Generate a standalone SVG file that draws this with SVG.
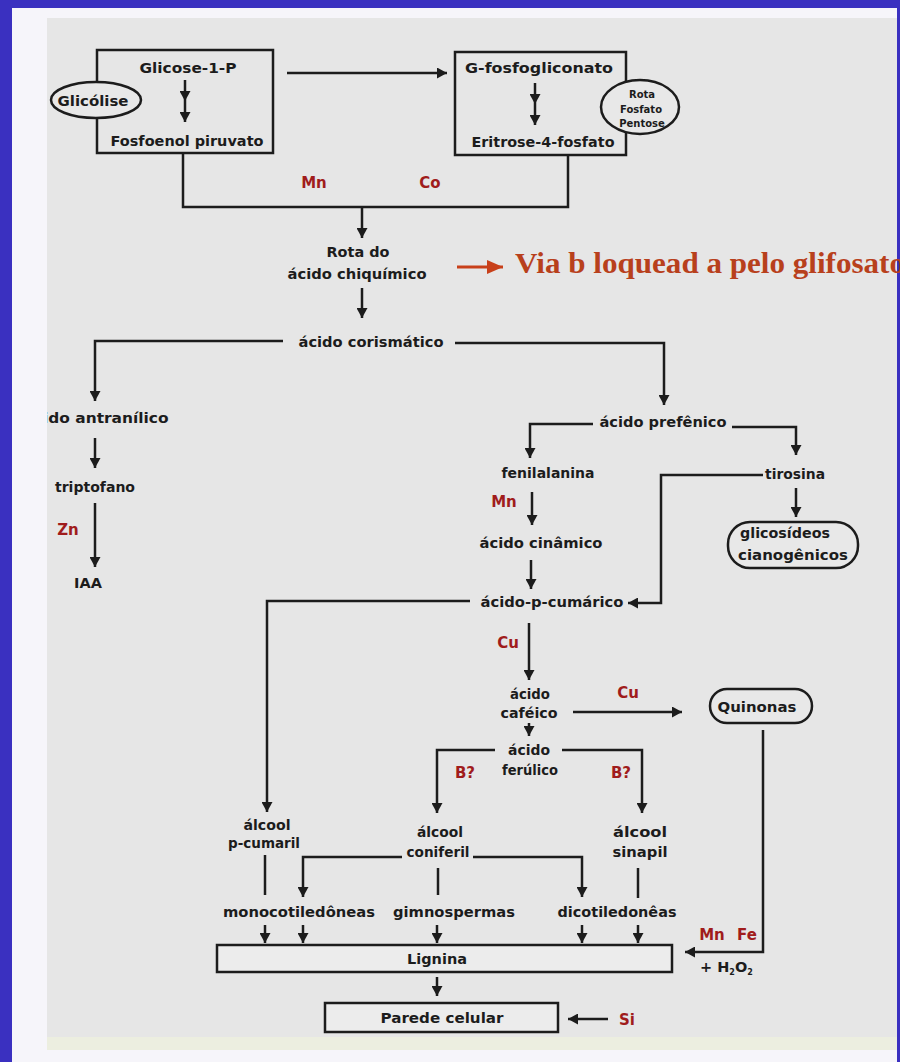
<svg xmlns="http://www.w3.org/2000/svg" width="900" height="1062" viewBox="0 0 900 1062">
<defs>
<style>
.t{font-family:"DejaVu Sans","Liberation Sans",sans-serif;font-weight:bold;font-size:14.5px;fill:#1c1c1c;text-anchor:middle}
.s{font-size:10px}
.r{font-family:"DejaVu Sans","Liberation Sans",sans-serif;font-weight:bold;font-size:15px;fill:#a01c1c;text-anchor:middle}
.c{fill:none;stroke:#1c1c1c;stroke-width:2.5}
.box{fill:#e8e8e8;stroke:#1c1c1c;stroke-width:2.5}
.frame{fill:none;stroke:#1c1c1c;stroke-width:2.5}
</style>
<marker id="ah" markerUnits="userSpaceOnUse" markerWidth="10" markerHeight="11" refX="10" refY="5.5" orient="auto"><path d="M0,0 L10,5.5 L0,11 z" fill="#1c1c1c"/></marker>
<marker id="ahr" markerUnits="userSpaceOnUse" markerWidth="16" markerHeight="14" refX="16" refY="7" orient="auto"><path d="M0,0 L16,7 L0,14 z" fill="#c8401a"/></marker>
<clipPath id="panel"><rect x="47" y="18" width="850" height="1020"/></clipPath>
</defs>

<g id="background">
<rect x="0" y="0" width="900" height="1062" fill="#3a30c0"/>
<rect x="12" y="8" width="885" height="1054" fill="#f6f5fa"/>
<rect x="47" y="18" width="850" height="1020" fill="#e6e6e6"/>
<rect x="47" y="1037" width="850" height="13" fill="#eceee0"/>
</g>

<g id="connectors">
<path class="c" d="M287,73 H447" marker-end="url(#ah)"/>
<path class="c" d="M185,80 V101 V122" marker-mid="url(#ah)" marker-end="url(#ah)"/>
<path class="c" d="M535,83 V104 V125" marker-mid="url(#ah)" marker-end="url(#ah)"/>
<path class="c" d="M183,153 V207 H568 V155"/>
<path class="c" d="M362,207 V238" marker-end="url(#ah)"/>
<path class="c" d="M362,288 V318" marker-end="url(#ah)"/>
<path d="M457,267 H503" fill="none" stroke="#c8401a" stroke-width="3" marker-end="url(#ahr)"/>
<path class="c" d="M283,341 H95 V401" marker-end="url(#ah)"/>
<path class="c" d="M455,343 H664 V405" marker-end="url(#ah)"/>
<path class="c" d="M95,438 V468" marker-end="url(#ah)"/>
<path class="c" d="M95,503 V567" marker-end="url(#ah)"/>
<path class="c" d="M593,424 H530 V458" marker-end="url(#ah)"/>
<path class="c" d="M732,427 H796 V455" marker-end="url(#ah)"/>
<path class="c" d="M532,492 V525" marker-end="url(#ah)"/>
<path class="c" d="M531,560 V589" marker-end="url(#ah)"/>
<path class="c" d="M796,488 V517" marker-end="url(#ah)"/>
<path class="c" d="M763,475 H661 V603 H628" marker-end="url(#ah)"/>
<path class="c" d="M470,601 H267 V812" marker-end="url(#ah)"/>
<path class="c" d="M529,623 V680" marker-end="url(#ah)"/>
<path class="c" d="M573,712 H682" marker-end="url(#ah)"/>
<path class="c" d="M529,723 V736" marker-end="url(#ah)"/>
<path class="c" d="M495,750 H437 V813" marker-end="url(#ah)"/>
<path class="c" d="M562,750 H642 V813" marker-end="url(#ah)"/>
<path class="c" d="M265,855 V895"/>
<path class="c" d="M402,857 H303 V897" marker-end="url(#ah)"/>
<path class="c" d="M473,857 H582 V897" marker-end="url(#ah)"/>
<path class="c" d="M438,868 V895"/>
<path class="c" d="M638,868 V898"/>
<path class="c" d="M265,925 V943" marker-end="url(#ah)"/>
<path class="c" d="M303,925 V943" marker-end="url(#ah)"/>
<path class="c" d="M437,925 V943" marker-end="url(#ah)"/>
<path class="c" d="M582,925 V943" marker-end="url(#ah)"/>
<path class="c" d="M638,925 V943" marker-end="url(#ah)"/>
<path class="c" d="M763,730 V952 H685" marker-end="url(#ah)"/>
<path class="c" d="M437,977 V996" marker-end="url(#ah)"/>
<path class="c" d="M608,1019 H568" marker-end="url(#ah)"/>
</g>

<g id="glicose-box">
<rect class="frame" x="97" y="50" width="176" height="103"/>
<text class="t" x="188" y="73" textLength="97" lengthAdjust="spacingAndGlyphs">Glicose-1-P</text>
<text class="t" x="187" y="146" textLength="153" lengthAdjust="spacingAndGlyphs">Fosfoenol piruvato</text>
</g>
<g id="glicolise">
<ellipse class="box" cx="96" cy="100" rx="45" ry="18"/>
<text class="t" x="93" y="106" font-size="13" textLength="71" lengthAdjust="spacingAndGlyphs">Glicólise</text>
</g>
<g id="gfosfo-box">
<rect class="frame" x="455" y="52" width="171" height="103"/>
<text class="t" x="539" y="73" textLength="148" lengthAdjust="spacingAndGlyphs">G-fosfogliconato</text>
<text class="t" x="543" y="147" textLength="143" lengthAdjust="spacingAndGlyphs">Eritrose-4-fosfato</text>
</g>
<g id="rota-fosfato">
<ellipse class="box" cx="640" cy="107" rx="39" ry="27"/>
<text class="t s" x="642" y="98">Rota</text>
<text class="t s" x="641" y="113">Fosfato</text>
<text class="t s" x="642" y="127">Pentose</text>
</g>
<g id="labels-top">
<text class="r" x="314" y="188">Mn</text>
<text class="r" x="430" y="188">Co</text>
</g>
<g id="rota-chiquimico">
<text class="t" x="358" y="257" textLength="63" lengthAdjust="spacingAndGlyphs">Rota do</text>
<text class="t" x="357" y="279" textLength="139" lengthAdjust="spacingAndGlyphs">ácido chiquímico</text>
</g>
<g id="glifosato">
<text x="515" y="273" font-family="'Liberation Serif','Times New Roman',serif" font-weight="bold" font-size="30" fill="#b8401c" textLength="390" lengthAdjust="spacingAndGlyphs">Via b loquead a pelo glifosato</text>
</g>
<g id="corismatico">
<text class="t" x="371" y="347" textLength="145" lengthAdjust="spacingAndGlyphs">ácido corismático</text>
</g>
<g id="antranilico">
<text class="t" x="96" y="423" textLength="145" lengthAdjust="spacingAndGlyphs" clip-path="url(#panel)">ácido antranílico</text>
</g>
<g id="triptofano">
<text class="t" x="95" y="492" textLength="80" lengthAdjust="spacingAndGlyphs">triptofano</text>
<text class="r" x="68" y="535">Zn</text>
</g>
<g id="iaa">
<text class="t" x="88" y="588">IAA</text>
</g>
<g id="prefenico">
<text class="t" x="663" y="427" textLength="127" lengthAdjust="spacingAndGlyphs">ácido prefênico</text>
</g>
<g id="fenilalanina">
<text class="t" x="548" y="478" textLength="93" lengthAdjust="spacingAndGlyphs">fenilalanina</text>
<text class="r" x="504" y="507">Mn</text>
</g>
<g id="tirosina">
<text class="t" x="795" y="479" textLength="60" lengthAdjust="spacingAndGlyphs">tirosina</text>
</g>
<g id="glicosideos">
<rect class="box" x="728" y="522" width="130" height="46" rx="22"/>
<text class="t" x="785" y="538" textLength="90" lengthAdjust="spacingAndGlyphs">glicosídeos</text>
<text class="t" x="793" y="560" textLength="110" lengthAdjust="spacingAndGlyphs">cianogênicos</text>
</g>
<g id="cinamico">
<text class="t" x="541" y="548" textLength="123" lengthAdjust="spacingAndGlyphs">ácido cinâmico</text>
</g>
<g id="cumarico">
<text class="t" x="552" y="607" textLength="143" lengthAdjust="spacingAndGlyphs">ácido-p-cumárico</text>
<text class="r" x="508" y="648">Cu</text>
</g>
<g id="cafeico">
<text class="t" x="530" y="699" textLength="40" lengthAdjust="spacingAndGlyphs">ácido</text>
<text class="t" x="529" y="718" textLength="57" lengthAdjust="spacingAndGlyphs">caféico</text>
<text class="r" x="628" y="698">Cu</text>
</g>
<g id="quinonas">
<rect class="box" x="710" y="689" width="102" height="34" rx="17"/>
<text class="t" x="757" y="712" textLength="79" lengthAdjust="spacingAndGlyphs">Quinonas</text>
</g>
<g id="ferulico">
<text class="t" x="529" y="755" textLength="42" lengthAdjust="spacingAndGlyphs">ácido</text>
<text class="t" x="530" y="775" textLength="56" lengthAdjust="spacingAndGlyphs">ferúlico</text>
<text class="r" x="465" y="778">B?</text>
<text class="r" x="621" y="778">B?</text>
</g>
<g id="p-cumaril">
<text class="t" x="267" y="830" textLength="47" lengthAdjust="spacingAndGlyphs">álcool</text>
<text class="t" x="264" y="848" textLength="72" lengthAdjust="spacingAndGlyphs">p-cumaril</text>
</g>
<g id="coniferil">
<text class="t" x="440" y="837" textLength="46" lengthAdjust="spacingAndGlyphs">álcool</text>
<text class="t" x="438" y="857" textLength="63" lengthAdjust="spacingAndGlyphs">coniferil</text>
</g>
<g id="sinapil">
<text class="t" x="640" y="837" textLength="54" lengthAdjust="spacingAndGlyphs">álcool</text>
<text class="t" x="640" y="857" textLength="55" lengthAdjust="spacingAndGlyphs">sinapil</text>
</g>
<g id="plant-groups">
<text class="t" x="299" y="917" textLength="152" lengthAdjust="spacingAndGlyphs">monocotiledôneas</text>
<text class="t" x="454" y="917" textLength="122" lengthAdjust="spacingAndGlyphs">gimnospermas</text>
<text class="t" x="617" y="917" textLength="119" lengthAdjust="spacingAndGlyphs">dicotiledonêas</text>
</g>
<g id="lignina">
<rect class="box" x="217" y="945" width="455" height="27" style="fill:#ececec"/>
<text class="t" x="437" y="964" textLength="60" lengthAdjust="spacingAndGlyphs">Lignina</text>
<text class="r" x="712" y="940">Mn</text>
<text class="r" x="747" y="940">Fe</text>
<text class="t" x="700" y="972" font-size="12" style="text-anchor:start">+ H<tspan font-size="8" dy="3">2</tspan><tspan dy="-3">O</tspan><tspan font-size="8" dy="3">2</tspan></text>
</g>
<g id="parede">
<rect class="box" x="325" y="1003" width="233" height="29" style="fill:#ececec"/>
<text class="t" x="442" y="1023" textLength="123" lengthAdjust="spacingAndGlyphs">Parede celular</text>
<text class="r" x="627" y="1025">Si</text>
</g>
</svg>
